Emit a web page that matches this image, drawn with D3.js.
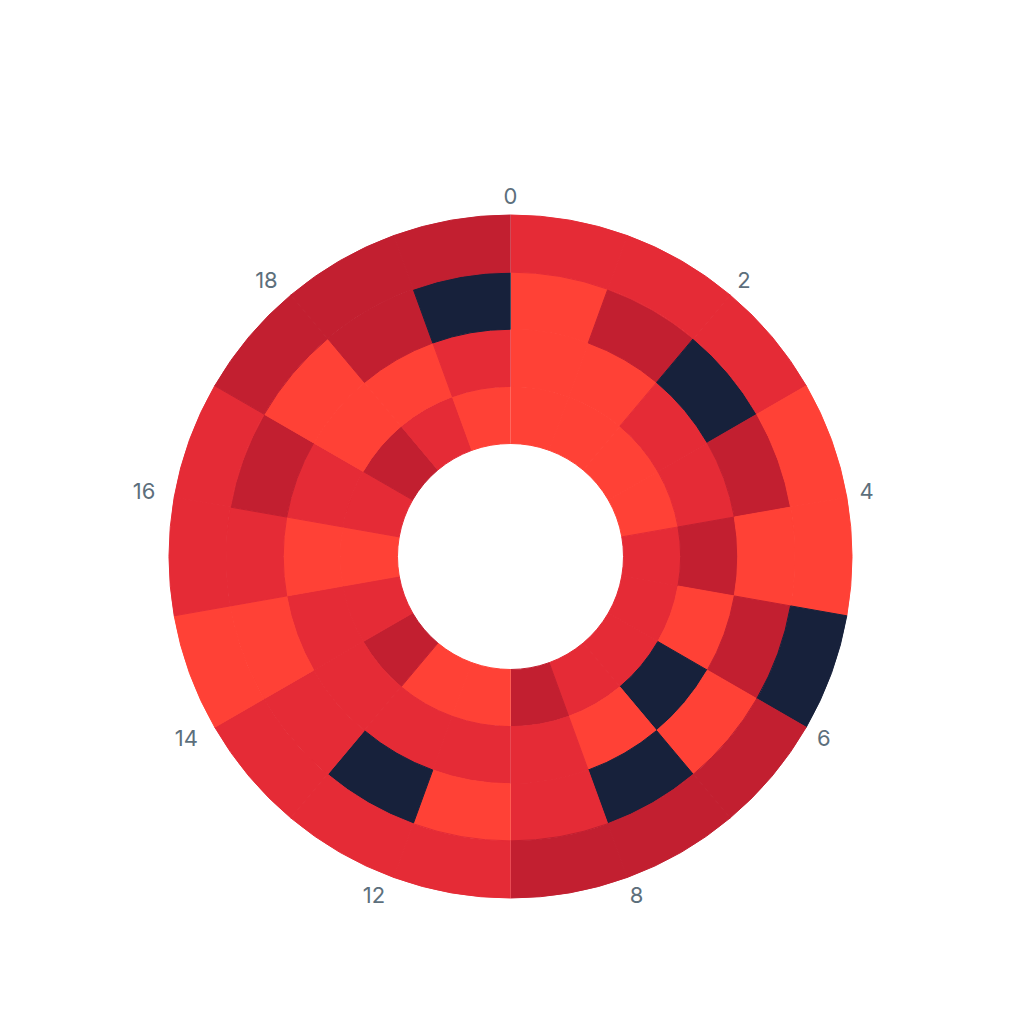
<!DOCTYPE html>
<html>
<head>
<meta charset="utf-8">
<script src="https://cdn.jsdelivr.net/npm/d3@7"></script>
<style>
  body { margin: 0; background: #fff; }
  .tick-label { font-family: Inter, "Open Sans", sans-serif; font-size: 22px; fill: #5d6f7c; }
</style>
</head>
<body>
<div id="graphic"></div>
<script>
// angular categories (18 slices, 20 degrees each)
const hours = ["0","1","2","3","4","5","6","7","8","9","12","13","14","15","16","17","18","19"];
// rings, inner to outer
const rings = ["A","B","C","D"];
// level per cell, 1 = lowest (navy) .. 4 = highest (orange)
const ringA = [4,4,4,4,3,3,3,3,2,4,4,2,3,4,3,2,3,4];
const ringB = [4,4,3,3,2,4,1,4,3,3,3,3,3,4,3,4,4,3];
const ringC = [4,2,1,2,4,2,4,1,3,4,1,3,4,3,2,4,2,1];
const ringD = [3,3,3,4,4,1,2,2,2,3,3,3,4,3,3,2,2,2];
const levels = [1,2,3,4];
const colors = ["#17213b","#c21f30","#e52b36","#ff4136"];

const width = 1020, height = 1020,
  cx = 510.5, cy = 556.5,
  innerR = 113, outerR = 341.5;

const series = [ringA, ringB, ringC, ringD];
const cells = [];
rings.forEach((r, i) => {
  series[i].forEach((v, j) => cells.push({ring: r, hour: hours[j], value: v}));
});

const svg = d3.select("#graphic").append("svg")
  .attr("width", width)
  .attr("height", height)
  .append("g")
  .attr("transform", `translate(${cx},${cy})`);

const x = d3.scaleBand()
  .domain(hours)
  .range([0, 2 * Math.PI]);

const y = d3.scaleBand()
  .domain(rings)
  .range([innerR, outerR]);

const color = d3.scaleOrdinal()
  .domain(levels)
  .range(colors);

const arc = d3.arc()
  .innerRadius(d => y(d.ring))
  .outerRadius(d => y(d.ring) + y.bandwidth())
  .startAngle(d => x(d.hour))
  .endAngle(d => x(d.hour) + x.bandwidth());

svg.selectAll(".cell")
  .data(cells)
  .enter()
  .append("path")
  .attr("class", "cell")
  .attr("d", arc)
  .attr("fill", d => color(d.value))
  .attr("stroke", d => color(d.value))
  .attr("stroke-width", 1)
  .attr("stroke-linejoin", "round");

// faint seam along the 0 line
svg.append("line")
  .attr("x1", 0).attr("x2", 0)
  .attr("y1", -innerR).attr("y2", -outerR)
  .attr("stroke", "rgba(255,255,255,0.2)")
  .attr("stroke-width", 1);
svg.append("line")
  .attr("x1", 0).attr("x2", 0)
  .attr("y1", innerR).attr("y2", outerR)
  .attr("stroke", "rgba(255,255,255,0.15)")
  .attr("stroke-width", 1);

// every other angle gets a label, placed at the slice start
const labelR = outerR + 16;
const side = d => {
  const s = Math.sin(x(d));
  return Math.abs(s) < 0.05 ? 0 : Math.sign(s);
};
svg.selectAll(".tick-label")
  .data(hours.filter((h, i) => i % 2 === 0))
  .enter()
  .append("text")
  .attr("class", "tick-label")
  .attr("x", d => labelR * Math.sin(x(d)) - (side(d) !== 0 ? 3 : 0))
  .attr("y", d => {
    const c = Math.cos(x(d));
    return -labelR * c - (Math.abs(c) > 0.05 ? Math.sign(c) * 3 : 0);
  })
  .attr("text-anchor", d => side(d) === 0 ? "middle" : (side(d) > 0 ? "start" : "end"))
  .attr("dominant-baseline", "central")
  .text(d => d);
</script>
</body>
</html>
